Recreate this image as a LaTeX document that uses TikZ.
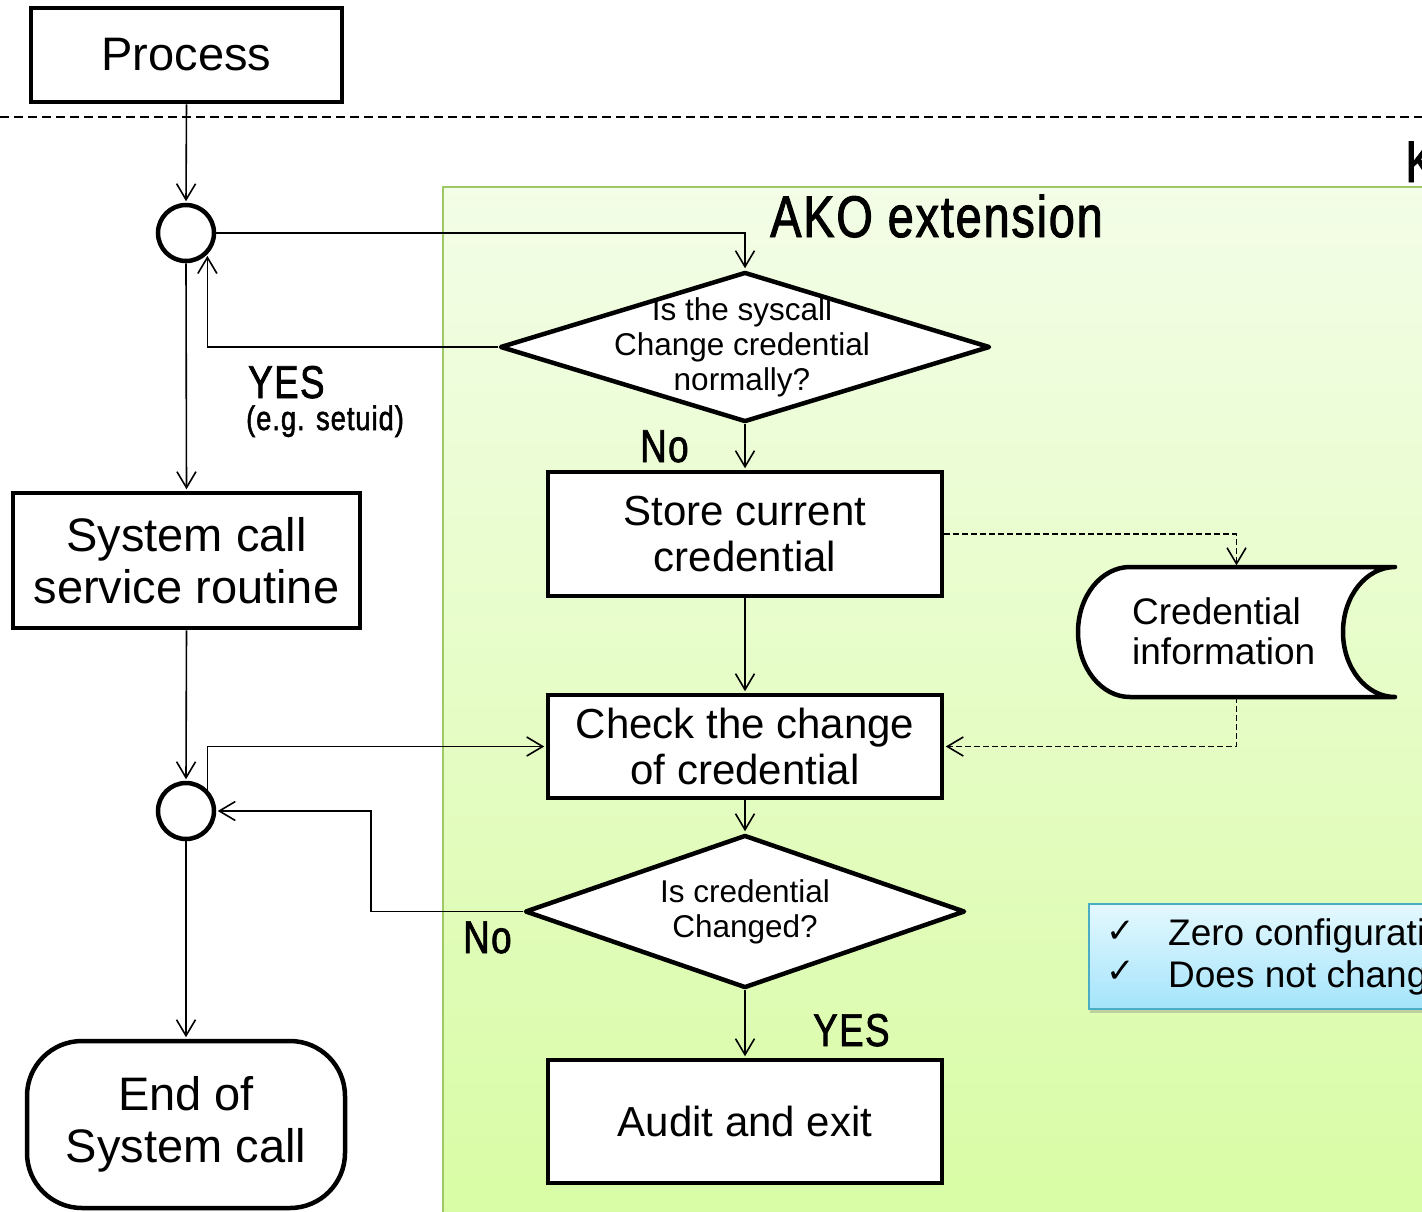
\documentclass[tikz,border=0pt]{standalone}
\usepackage{fontspec}
\setmainfont{Liberation Sans}
\newfontfamily\condfont{Liberation Sans}[FakeStretch=0.8,FakeBold=1.6,LetterSpace=3]
\newfontfamily\symfont{DejaVu Sans}
\usetikzlibrary{arrows.meta,shapes.geometric,shadows}

\definecolor{panelborder}{RGB}{160,200,100}
\definecolor{paneltop}{RGB}{243,253,231}
\definecolor{panelbottom}{RGB}{216,252,164}
\definecolor{notetop}{RGB}{228,248,254}
\definecolor{notebottom}{RGB}{164,228,251}
\definecolor{noteborder}{RGB}{75,172,198}

\tikzset{
  bigbox/.style={draw,line width=4.5pt,fill=white,inner sep=0pt,align=center,
    font=\fontsize{47}{52}\selectfont},
  stepbox/.style={draw,line width=4.5pt,fill=white,inner sep=0pt,align=center,
    font=\fontsize{42}{46}\selectfont},
  terminal/.style={bigbox,rounded corners=55pt},
  junction/.style={draw,circle,line width=4.5pt,fill=white,inner sep=0pt,minimum size=56pt},
  decision/.style={draw,diamond,line width=4.5pt,line join=round,fill=white,inner sep=0pt},
  dtext/.style={inner sep=0pt,align=center,font=\fontsize{31.5}{35}\selectfont},
  lbl/.style={inner sep=0pt,anchor=base west,font=\condfont\fontsize{46}{46}\selectfont},
  lblsmall/.style={inner sep=0pt,anchor=base west,font=\condfont\fontsize{34}{34}\selectfont},
  title/.style={inner sep=0pt,anchor=base west,font=\condfont\fontsize{58.7}{60}\selectfont},
  notetext/.style={inner sep=0pt,anchor=base west,font=\fontsize{37}{40}\selectfont},
  tick/.style={inner sep=0pt,font=\symfont\fontsize{34}{36}\selectfont},
  flow/.style={line width=1.6pt,shorten >=1.5pt,
    -{Straight Barb[length=16pt,width=19pt,line width=1.6pt]}},
  dflow/.style={flow,dash pattern=on 6pt off 3pt},
  boundary/.style={line width=1.5pt,dash pattern=on 9pt off 5pt},
}

\begin{document}
\begin{tikzpicture}[x=1pt,y=-1pt]
\useasboundingbox (0,0) rectangle (1422,1211);
\clip (0,0) rectangle (1422,1211);

% user / kernel boundary
\draw[boundary] (0,117) -- (1422,117);
\node[title] (kern) at (1405,182) {Kernel};

% AKO extension area
\shade[top color=paneltop,bottom color=panelbottom] (443,187) rectangle (1440,1230);
\draw[panelborder,line width=2pt] (443,1230) -- (443,187) -- (1440,187);
\node[title] (ako) at (770,237) {AKO extension};

% main system call path
\node[bigbox,minimum width=311pt,minimum height=94pt] (proc) at (186.5,55) {Process};
\node[junction] (c1) at (186,233) {};
\node[bigbox,minimum width=347pt,minimum height=135pt] (sys) at (186.5,560.5) {System call\\service routine};
\node[junction] (c2) at (186,811) {};
\node[terminal,minimum width=318pt,minimum height=167pt] (end) at (186,1124.5) {End of\\System call};

% extension steps
\node[decision,minimum width=490pt,minimum height=150pt] (d1) at (745,347) {};
\node[dtext] (d1t) at (742,347) {Is the syscall\\Change credential\\normally?};
\node[stepbox,minimum width=394pt,minimum height=124pt] (store) at (745,534) {Store current\\credential};
\node[stepbox,minimum width=394pt,minimum height=103pt] (check) at (745,746.5) {Check the change\\of credential};
\node[decision,minimum width=440pt,minimum height=153pt] (d2) at (745,911.5) {};
\node[dtext] (d2t) at (d2.center) {Is credential\\Changed?};
\node[stepbox,minimum width=394pt,minimum height=123pt] (audit) at (745,1121.5) {Audit and exit};

% stored credential
\node[inner sep=0pt,minimum width=317pt,minimum height=130pt] (cred) at (1236.5,632) {};
\draw[line width=4.5pt,line cap=round,line join=round,fill=white]
  (1395,567) -- (1130,567) arc[start angle=270,end angle=90,x radius=52,y radius=65]
  -- (1395,697) arc[start angle=90,end angle=270,x radius=52,y radius=65];
\node[inner sep=0pt,align=left,anchor=west,font=\fontsize{37}{40}\selectfont] (credt) at (1132,631) {Credential\\information};

% branch labels
\node[lbl] (yes1) at (248,398) {YES};
\node[lblsmall] (eg) at (246,430) {(e.g. setuid)};
\node[lbl] (no1) at (640,462) {No};
\node[lbl] (no2) at (463,953) {No};
\node[lbl] (yes2) at (813,1046) {YES};

% properties note
\node[draw=noteborder,line width=2pt,top color=notetop,bottom color=notebottom,
  drop shadow={shadow xshift=1pt,shadow yshift=-4pt,opacity=0.35},
  anchor=north west,minimum width=400pt,minimum height=105pt,inner sep=0pt] (note) at (1088,903) {};
\node[tick] (tk1) at (1121,932) {✓};
\node[notetext] (n1) at (1168,945) {Zero configuration};
\node[tick] (tk2) at (1121,972) {✓};
\node[notetext] (n2) at (1168,987) {Does not change the kernel};

% connectors
\draw[flow] (proc.south) -- (c1.north);
\draw[flow] (c1.east) -| (d1.north);
\draw[flow] (d1.west) -| (c1.south east);
\draw[flow] (c1.south) -- (sys.north);
\draw[flow] (sys.south) -- (c2.north);
\draw[flow] (c2.south) -- (end.north);
\draw[flow] (d1.south) -- (store.north);
\draw[flow] (store.south) -- (check.north);
\draw[flow] (check.south) -- (d2.north);
\draw[flow] (d2.south) -- (audit.north);
\draw[flow] (c2.north east) |- (check.west);
\coordinate (bend) at (371,911.5);
\draw[flow] (d2.west) -- (bend) |- (c2.east);
\draw[dflow] (store.east) -| (cred.north);
\draw[dflow] (cred.south) |- (check.east);
\end{tikzpicture}
\end{document}
